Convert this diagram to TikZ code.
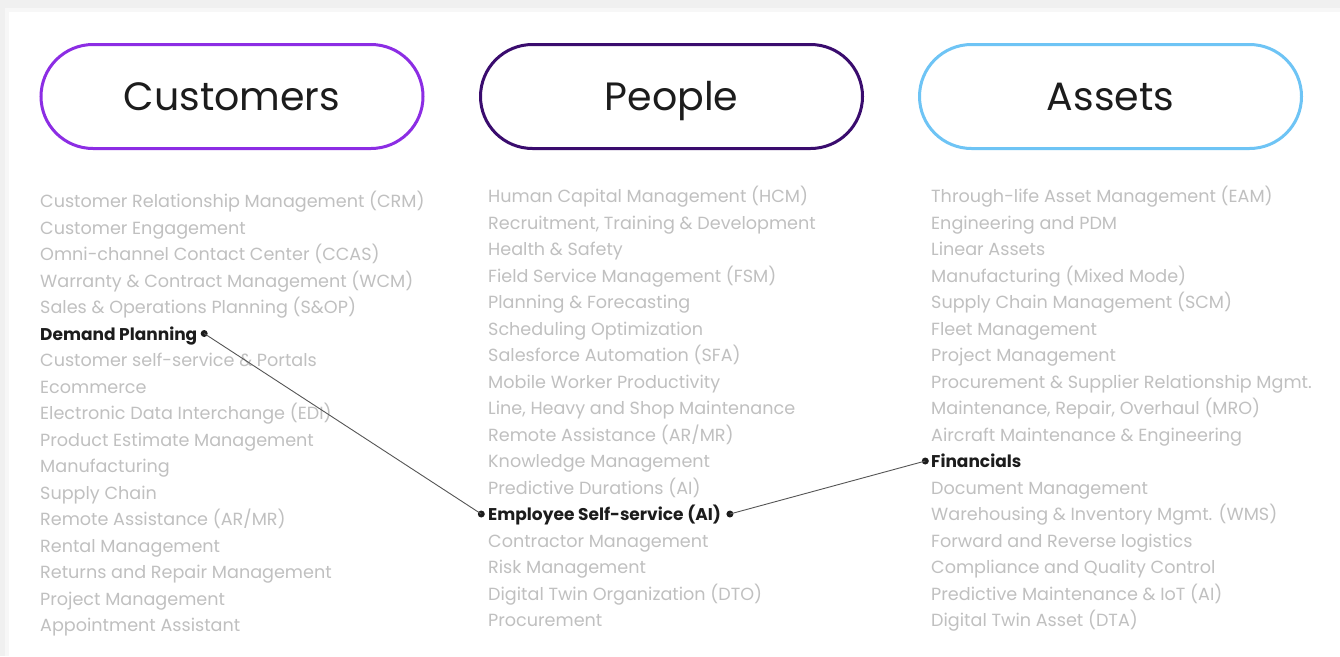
\documentclass[tikz,border=0pt]{standalone}
\usepackage{fontspec}
\setmainfont{Poppins}
\usepackage{tikz}
\usetikzlibrary{positioning}

\definecolor{custviolet}{RGB}{140,45,228}
\definecolor{peoplepurple}{RGB}{58,12,110}
\definecolor{assetblue}{RGB}{110,196,245}
\definecolor{itemgrey}{RGB}{192,192,192}
\definecolor{keytext}{RGB}{28,28,28}
\definecolor{linkgrey}{RGB}{85,85,85}

\begin{document}
\begin{tikzpicture}[
    x=1pt, y=-1pt,
    pill/.style={rectangle, draw, line width=3pt, rounded corners=52pt, minimum width=382pt, minimum height=104pt, font=\fontsize{39.5}{44}\selectfont, text=keytext, text height=28pt, text depth=0pt},
    item/.style={anchor=west, inner sep=0pt, text=itemgrey, font=\fontsize{17.6}{21}\selectfont, text height=15pt, text depth=2pt},
    keyitem/.style={item, text=keytext, font=\fontsize{17}{21}\selectfont\bfseries},
    dot/.style={circle, fill=keytext, inner sep=0pt, minimum size=7pt},
    link/.style={linkgrey, line width=0.9pt}
]
    % card with a faint shadow
    \useasboundingbox (0,0) rectangle (1340,656);
    \fill[black!6] (0,0) rectangle (1340,656);
    \fill[black!3] (5,8) rectangle (1340,656);
    \fill[white] (9,12) rectangle (1340,656);

    \node[pill, draw=custviolet] (customers) at (232,96.5) {Customers};
    \node[pill, draw=peoplepurple] (people) at (671.5,96.5) {People};
    \node[pill, draw=assetblue] (assets) at (1110.5,96.5) {Assets};

    % customers
    \foreach \t [count=\i from 0] in {Customer Relationship Management (CRM), Customer Engagement, Omni-channel Contact Center (CCAS), Warranty \& Contract Management (WCM), Sales \& Operations Planning (S\&OP), , Customer self-service \& Portals, Ecommerce, Electronic Data Interchange (EDI), Product Estimate Management, Manufacturing, Supply Chain, Remote Assistance (AR/MR), Rental Management, Returns and Repair Management, Project Management, Appointment Assistant}
        \node[item] (cust\i) at (40,201+26.5*\i) {\t};
    \node[keyitem] (demand) at (40,333.5) {Demand Planning};

    % people
    \foreach \t [count=\i from 0] in {Human Capital Management (HCM), {Recruitment, Training \& Development}, Health \& Safety, Field Service Management (FSM), Planning \& Forecasting, Scheduling Optimization, Salesforce Automation (SFA), Mobile Worker Productivity, {Line, Heavy and Shop Maintenance}, Remote Assistance (AR/MR), Knowledge Management, Predictive Durations (AI), , Contractor Management, Risk Management, Digital Twin Organization (DTO), Procurement}
        \node[item] (ppl\i) at (488,196+26.5*\i) {\t};
    \node[keyitem] (selfservice) at (488,514) {Employee Self-service (AI)};

    % assets
    \foreach \t [count=\i from 0] in {Through-life Asset Management (EAM), Engineering and PDM, Linear Assets, Manufacturing (Mixed Mode), Supply Chain Management (SCM), Fleet Management, Project Management, Procurement \& Supplier Relationship Mgmt., {Maintenance, Repair, Overhaul (MRO)}, Aircraft Maintenance \& Engineering, , Document Management, Warehousing \& Inventory Mgmt. (WMS), Forward and Reverse logistics, Compliance and Quality Control, Predictive Maintenance \& IoT (AI), Digital Twin Asset (DTA)}
        \node[item] (ast\i) at (931,196+26.5*\i) {\t};
    \node[keyitem] (financials) at (931,461) {Financials};

    \node[dot, right=3pt of demand] (demanddot) {};
    \node[dot, left=3pt of selfservice] (ssleft) {};
    \node[dot, right=5pt of selfservice] (ssright) {};
    \node[dot, left=2pt of financials] (findot) {};

    \draw[link] (demanddot.center) -- (ssleft.center);
    \draw[link] (ssright.center) -- (findot.center);
\end{tikzpicture}
\end{document}
